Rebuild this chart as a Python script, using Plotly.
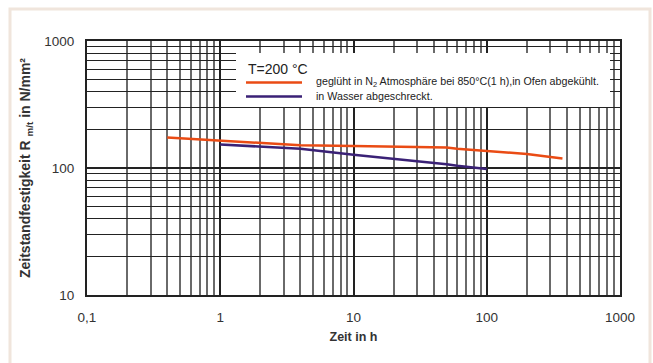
import plotly.graph_objects as go

# ---- data ----
orange_x = [0.4, 0.6, 1, 2, 4, 10, 20, 30, 50, 60, 100, 200, 370]
orange_y = [174, 170, 165, 157, 151, 149, 147, 146, 145, 142, 137, 129, 119]
purple_x = [1, 2, 4, 10, 20, 30, 50, 60, 100]
purple_y = [153, 148, 142, 127, 117, 113, 107, 104, 98]

x_tickvals = [0.1, 1, 10, 100, 1000]
x_ticktext = ["0,1", "1", "10", "100", "1000"]
y_tickvals = [10, 100, 1000]
y_ticktext = ["10", "100", "1000"]

legend_title = "T=200 °C"
name_orange = "geglüht in N<sub>2</sub> Atmosphäre bei 850°C(1 h),in Ofen abgekühlt."
name_purple = "in Wasser abgeschreckt."

ORANGE = "#ea4b14"
PURPLE = "#3a2176"
FONT = "Liberation Sans, Arial, sans-serif"

W, H = 653, 363
L, R, T, B = 87, 33, 41, 68
PW, PH = W - L - R, H - T - B


def px(xp):
    return (xp - L) / PW


def py(yp):
    return (H - B - yp) / PH


fig = go.Figure()
fig.add_trace(go.Scatter(x=orange_x, y=orange_y, mode="lines",
                         line=dict(color=ORANGE, width=2.5), name=name_orange,
                         showlegend=False))
fig.add_trace(go.Scatter(x=purple_x, y=purple_y, mode="lines",
                         line=dict(color=PURPLE, width=2.5), name=name_purple,
                         showlegend=False))

shapes = []
# outer beige frame
shapes.append(dict(type="rect", xref="paper", yref="paper",
                   x0=px(10), x1=px(650), y0=py(375), y1=py(9),
                   line=dict(color="#f0e5dc", width=3), fillcolor="rgba(0,0,0,0)",
                   layer="below"))
# legend white box (covers grid)
shapes.append(dict(type="rect", xref="paper", yref="paper",
                   x0=px(236), x1=px(610), y0=py(107), y1=py(53),
                   line=dict(width=0), fillcolor="white", layer="above"))
# legend line samples
shapes.append(dict(type="line", xref="paper", yref="paper",
                   x0=px(246), x1=px(302), y0=py(82.5), y1=py(82.5),
                   line=dict(color=ORANGE, width=2.5), layer="above"))
shapes.append(dict(type="line", xref="paper", yref="paper",
                   x0=px(246), x1=px(302), y0=py(96.5), y1=py(96.5),
                   line=dict(color=PURPLE, width=2.5), layer="above"))

annotations = [
    dict(text=legend_title, xref="paper", yref="paper", x=px(246), y=py(69),
         xanchor="left", yanchor="middle", showarrow=False,
         font=dict(family=FONT, size=14, color="#222")),
    dict(text=name_orange, xref="paper", yref="paper", x=px(314), y=py(82),
         xanchor="left", yanchor="middle", showarrow=False,
         font=dict(family=FONT, size=10.7, color="#222")),
    dict(text=name_purple, xref="paper", yref="paper", x=px(314), y=py(96.5),
         xanchor="left", yanchor="middle", showarrow=False,
         font=dict(family=FONT, size=10.7, color="#222")),
]

fig.update_layout(
    width=W, height=H,
    margin=dict(l=L, r=R, t=T, b=B),
    paper_bgcolor="white", plot_bgcolor="white",
    font=dict(family=FONT, size=13, color="#333"),
    shapes=shapes, annotations=annotations,
    showlegend=False,
)

fig.update_xaxes(
    type="log", range=[-1, 3],
    tickvals=x_tickvals, ticktext=x_ticktext,
    ticks="outside", ticklen=9, tickcolor="rgba(0,0,0,0)",
    tickfont=dict(size=13.5, color="#333"),
    showgrid=True, gridcolor="#222", gridwidth=1.5,
    minor=dict(dtick="D1", showgrid=True, gridcolor="#6a6a6a", gridwidth=1.5),
    showline=True, linecolor="#222", linewidth=2, mirror=True,
    zeroline=False,
    title=dict(text="<b>Zeit in h</b>", font=dict(size=12.5, color="#333"), standoff=8),
)
fig.update_yaxes(
    type="log", range=[1, 3],
    tickvals=y_tickvals, ticktext=y_ticktext,
    ticks="outside", ticklen=8, tickcolor="rgba(0,0,0,0)",
    tickfont=dict(size=13.5, color="#333"),
    showgrid=True, gridcolor="#222", gridwidth=1.5,
    minor=dict(dtick="D1", showgrid=True, gridcolor="#222", gridwidth=1.2),
    showline=True, linecolor="#222", linewidth=2, mirror=True,
    zeroline=False,
    title=dict(text="<b>Zeitstandfestigkeit R <sub>m/t</sub> in N/mm²</b>",
               font=dict(size=14, color="#333"), standoff=10),
)

fig.write_html("out.html")
